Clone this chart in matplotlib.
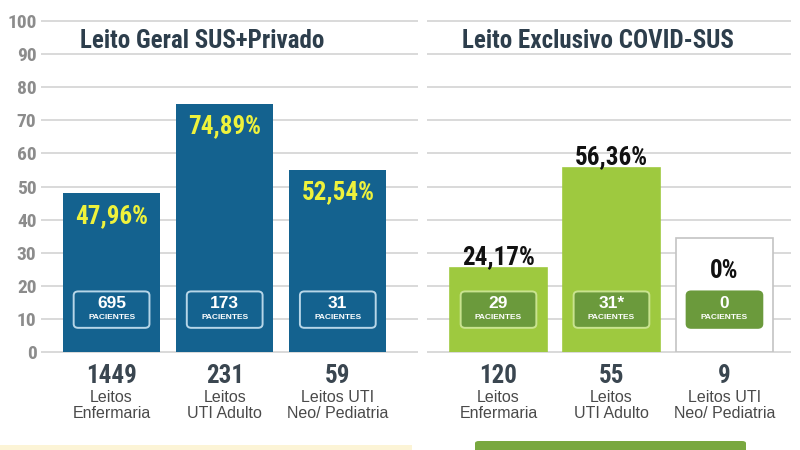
import os
import matplotlib
matplotlib.use("Agg")
import matplotlib.pyplot as plt
from matplotlib import font_manager
from matplotlib.font_manager import FontProperties
from matplotlib.patches import FancyBboxPatch, Rectangle
from matplotlib.transforms import blended_transform_factory

# ---------------- data ----------------
categories = ["Leitos\nEnfermaria", "Leitos\nUTI Adulto", "Leitos UTI\nNeo/ Pediatria"]
left_title = "Leito Geral SUS+Privado"
right_title = "Leito Exclusivo COVID-SUS"
left_heights = [47.96, 74.89, 55.0]          # bar heights as drawn
left_pct_labels = ["47,96%", "74,89%", "52,54%"]
left_patients = ["695", "173", "31"]
left_beds = ["1449", "231", "59"]
right_heights = [25.3, 55.6, 34.5]           # bar heights as drawn
right_pct_labels = ["24,17%", "56,36%", "0%"]
right_patients = ["29", "31*", "0"]
right_beds = ["120", "55", "9"]
yticks = [0, 10, 20, 30, 40, 50, 60, 70, 80, 90, 100]


# ---------------- font selection (prefer a bold condensed face) ----------------
def _is_bold(f):
    w = f.weight
    if isinstance(w, str):
        return "bold" in w.lower() or "black" in w.lower() or "heavy" in w.lower()
    return w >= 600


def _is_cond(f):
    b = os.path.basename(f.fname).lower()
    n = f.name.lower()
    return ("condensed" in str(f.stretch) or "condensed" in b or "narrow" in b
            or "condensed" in n or "narrow" in n) and "semi" not in b and "extra" not in b


def pick_condensed(bold=True):
    prefs = ["roboto", "liberation", "noto sans", "open sans", "dejavu", ""]
    cands = [f for f in font_manager.fontManager.ttflist
             if _is_cond(f) and _is_bold(f) == bold and f.style == "normal"
             and "mono" not in f.name.lower() and "serif" not in f.name.lower().replace("sans", "")]
    for p in prefs:
        for f in cands:
            if f.name.lower().startswith(p):
                return f.fname
    return None


cond_bold_path = pick_condensed(True)
if cond_bold_path:
    def CB(size):
        return FontProperties(fname=cond_bold_path, size=size)
else:
    def CB(size):
        return FontProperties(family=["Roboto", "Liberation Sans", "DejaVu Sans"],
                              weight="bold", size=size)

SANS = ["Liberation Sans", "DejaVu Sans"]

BLUE = "#14628f"
GREEN = "#9ec93f"
DKGREEN = "#6b9a3c"
GRID = "#d9d9d9"
TITLE_C = "#2d3e4c"
LABEL_C = "#3a4650"
YELLOW = "#eef23c"

fig = plt.figure(figsize=(8, 4.5), dpi=100)
fig.patch.set_facecolor("white")

ax_l = fig.add_axes([42 / 800, 98 / 450, 375 / 800, 331 / 450])
ax_r = fig.add_axes([428 / 800, 98 / 450, 362 / 800, 331 / 450])

for ax, xl in ((ax_l, (-0.615, 2.70)), (ax_r, (-0.624, 2.58))):
    ax.set_xlim(*xl)
    ax.set_ylim(0, 100)
    for s in ax.spines.values():
        s.set_visible(False)
    ax.set_xticks([])
    ax.set_facecolor("none")
    for t in yticks:
        ax.axhline(t, color=GRID, lw=1.4, zorder=0, clip_on=False)

ax_l.set_yticks(yticks)
ax_l.tick_params(axis="y", length=0, pad=4)
for lab in ax_l.get_yticklabels():
    lab.set_fontproperties(CB(14))
    lab.set_color("#8c8c8c")
ax_r.set_yticks([])

x = list(range(len(categories)))
bw = 0.86

# left bars
ax_l.bar(x, left_heights, width=bw, color=BLUE, zorder=2)
for i, h in enumerate(left_heights):
    ax_l.text(i, h - 6.8, left_pct_labels[i], ha="center", va="center",
              color=YELLOW, fontproperties=CB(18), zorder=4)
    box = FancyBboxPatch((i - 0.335, 7.3), 0.67, 11.0,
                         boxstyle="round,pad=0,rounding_size=0.04",
                         facecolor=BLUE, edgecolor="#b7d6e8", lw=1.4, zorder=3,
                         mutation_aspect=30)
    ax_l.add_patch(box)
    ax_l.text(i, 14.6, left_patients[i], ha="center", va="center", color="white",
              fontsize=12.5, fontweight="bold", family=SANS, zorder=4)
    ax_l.text(i, 10.4, "PACIENTES", ha="center", va="center", color="white",
              fontsize=6.0, fontweight="bold", family=SANS, zorder=4)

# right bars
rcolors = [GREEN, GREEN, "white"]
redges = [GREEN, GREEN, "#c4c4c4"]
ax_r.bar(x, right_heights, width=bw, color=rcolors, edgecolor=redges, lw=1.2, zorder=2)
for i, h in enumerate(right_heights):
    ypos = h + 3.3 if i < 2 else h - 10.0
    ax_r.text(i, ypos, right_pct_labels[i], ha="center", va="center",
              color="#111111", fontproperties=CB(18), zorder=4)
    edge = "#c9e38f" if i < 2 else DKGREEN
    box = FancyBboxPatch((i - 0.335, 7.3), 0.67, 11.0,
                         boxstyle="round,pad=0,rounding_size=0.04",
                         facecolor=DKGREEN, edgecolor=edge, lw=1.4, zorder=3,
                         mutation_aspect=30)
    ax_r.add_patch(box)
    ax_r.text(i, 14.6, right_patients[i], ha="center", va="center", color="white",
              fontsize=12.5, fontweight="bold", family=SANS, zorder=4)
    ax_r.text(i, 10.4, "PACIENTES", ha="center", va="center", color="white",
              fontsize=6.0, fontweight="bold", family=SANS, zorder=4)

# titles
ax_l.text(0.80, 94.0, left_title, ha="center", va="center", color=TITLE_C,
          fontproperties=CB(18), zorder=5)
ax_r.text(0.88, 94.0, right_title, ha="center", va="center", color=TITLE_C,
          fontproperties=CB(18), zorder=5)

# bottom category labels
for ax, beds in ((ax_l, left_beds), (ax_r, right_beds)):
    tr = blended_transform_factory(ax.transData, ax.transAxes)
    for i, cat in enumerate(categories):
        ax.text(i, -0.073, beds[i], transform=tr, ha="center", va="center",
                color=LABEL_C, fontproperties=CB(18))
        l1, l2 = cat.split("\n")
        ax.text(i, -0.137, l1, transform=tr, ha="center", va="center",
                color="#4a4a4a", fontsize=11.5, family=SANS)
        ax.text(i, -0.186, l2, transform=tr, ha="center", va="center",
                color="#4a4a4a", fontsize=11.5, family=SANS)

# decorative strips at the bottom
fig.patches.append(Rectangle((0, 0), 412 / 800, 5 / 450, transform=fig.transFigure,
                             facecolor="#fcf4d6", edgecolor="none"))
fig.patches.append(FancyBboxPatch((475 / 800, -5 / 450), 271 / 800, 14 / 450,
                                  boxstyle="round,pad=0,rounding_size=0.005",
                                  transform=fig.transFigure,
                                  facecolor="#79a83f", edgecolor="none"))

fig.savefig("out.png", dpi=100, facecolor="white")
